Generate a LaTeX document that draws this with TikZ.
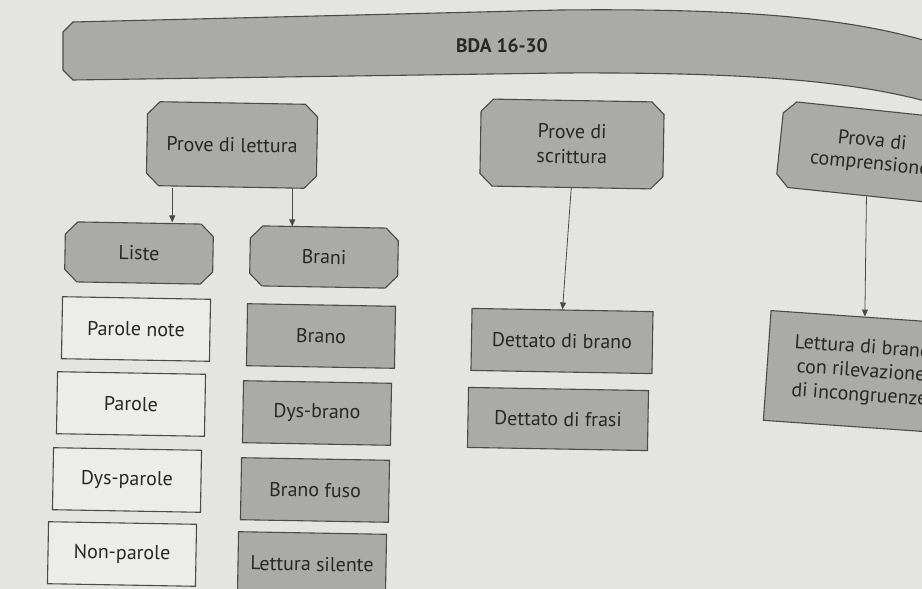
\documentclass[tikz,border=0pt]{standalone}
\usepackage{fontspec}
\setmainfont{PT Sans}
\usetikzlibrary{shapes.misc,arrows.meta}
\definecolor{pagebg}{RGB}{228,228,224}
\definecolor{paperw}{RGB}{236,236,232}
\definecolor{boxgray}{RGB}{170,170,167}
\definecolor{edgegray}{RGB}{75,75,75}
\definecolor{inkgray}{RGB}{40,40,40}

\begin{document}
\begin{tikzpicture}[
  x=1pt, y=-1pt,
  pbox/.style={chamfered rectangle,chamfered rectangle xsep=9pt,draw=edgegray,line width=1.1pt,fill=boxgray,text=inkgray,align=center,inner sep=2pt,font=\fontsize{20}{25}\selectfont},
  gbox/.style={rectangle,draw=edgegray,line width=1.1pt,fill=boxgray,text=inkgray,align=center,minimum width=148pt,minimum height=62pt,rotate=-1,font=\fontsize{20}{24}\selectfont},
  wbox/.style={gbox,fill=paperw},
  arr/.style={-{Triangle[length=7pt,width=6pt]},draw=edgegray,line width=0.8pt}
]
  \useasboundingbox (0,0) rectangle (922,589);
  \clip (0,0) rectangle (922,589);
  \fill[pagebg] (0,0) rectangle (922,589);
  % banner
  \draw[edgegray,line width=1.1pt,fill=boxgray] (73,22) -- (560,10) .. controls (760,8) and (860,20) .. (940,45)
    -- (940,105) .. controls (860,82) and (760,72) .. (560,73) -- (73,80) -- (63,70) -- (63,32) -- cycle;
  \node[text=inkgray,font=\fontsize{19.5}{23}\selectfont\bfseries] (bda) at (502,46) {BDA 16-30};
  % top level
  \node[pbox,minimum width=170pt,minimum height=84pt,rotate=-1] (lett) at (232,145) {Prove di lettura};
  \node[pbox,minimum width=183pt,minimum height=87pt,rotate=-1] (scrit) at (572,144) {Prove di\\scrittura};
  \node[pbox,minimum width=183pt,minimum height=86pt,rotate=-6,font=\fontsize{20}{23}\selectfont] (comp) at (871,153) {Prova di\\comprensione};
  \node[pbox,minimum width=148pt,minimum height=60pt,rotate=-1] (liste) at (139,253) {Liste};
  \node[pbox,minimum width=148pt,minimum height=60pt,rotate=-1] (brani) at (324,257) {Brani};
  % lists
  \node[wbox] (pn)  at (136,329) {Parole note};
  \node[wbox] (par) at (131,404) {Parole};
  \node[wbox] (dyp) at (127,480) {Dys-parole};
  \node[wbox] (nop) at (122,554) {Non-parole};
  % passages
  \node[gbox] (bra) at (321,336) {Brano};
  \node[gbox] (dyb) at (317,413) {Dys-brano};
  \node[gbox] (brf) at (315,490) {Brano fuso};
  \node[gbox] (les) at (312,564) {Lettura silente};
  % writing
  \node[gbox,minimum width=181pt,minimum height=62pt] (dbr) at (562,341) {Dettato di brano};
  \node[gbox,minimum width=180pt,minimum height=60pt] (dfr) at (558,419) {Dettato di frasi};
  % comprehension
  \node[gbox,minimum width=188pt,minimum height=110pt,rotate=-3] (lbr) at (861,372) {Lettura di brano\\con rilevazione\\di incongruenze};
  % arrows
  \draw[arr] ([xshift=-59pt]lett.south) -- ([xshift=-59pt]lett.south |- liste.north);
  \draw[arr] ([xshift=61pt]lett.south) -- ([xshift=61pt]lett.south |- brani.north);
  \draw[arr] (scrit.south) -- (dbr.north);
  \draw[arr] (comp.south) -- (lbr.north);
\end{tikzpicture}
\end{document}
